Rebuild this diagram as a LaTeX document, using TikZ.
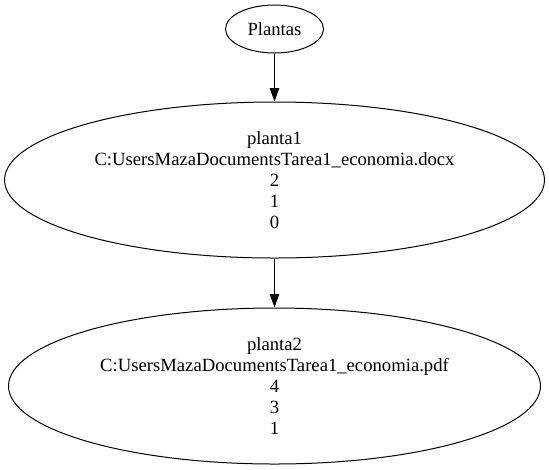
\documentclass[tikz,border=0pt]{standalone}
\usepackage{fontspec}
\setmainfont{Liberation Serif}
\newfontfamily\tnrfont{Liberation Serif}
\usetikzlibrary{shapes.geometric,arrows.meta}
\begin{document}
\begin{tikzpicture}[x=0.75pt,y=-0.75pt,
  ell/.style={draw,ellipse,inner sep=0pt,line width=0.75pt,align=center,
    font=\tnrfont\fontsize{14}{15.75}\selectfont},
  conn/.style={line width=0.75pt,-{Triangle[length=10pt,width=7pt]}}]
\useasboundingbox (0,0) rectangle (549,469);
\node[ell,minimum width=73.5pt,minimum height=36pt] (plantas) at (274.5,29) {Plantas};
\node[ell,minimum width=405pt,minimum height=117pt] (p1) at (274.5,180)
  {planta1\\C:UsersMazaDocumentsTarea1\_economia.docx\\2\\1\\0};
\node[ell,minimum width=399pt,minimum height=117pt] (p2) at (274.5,386)
  {planta2\\C:UsersMazaDocumentsTarea1\_economia.pdf\\4\\3\\1};
\draw[conn] (plantas) -- (p1);
\draw[conn] (p1) -- (p2);
\end{tikzpicture}
\end{document}
